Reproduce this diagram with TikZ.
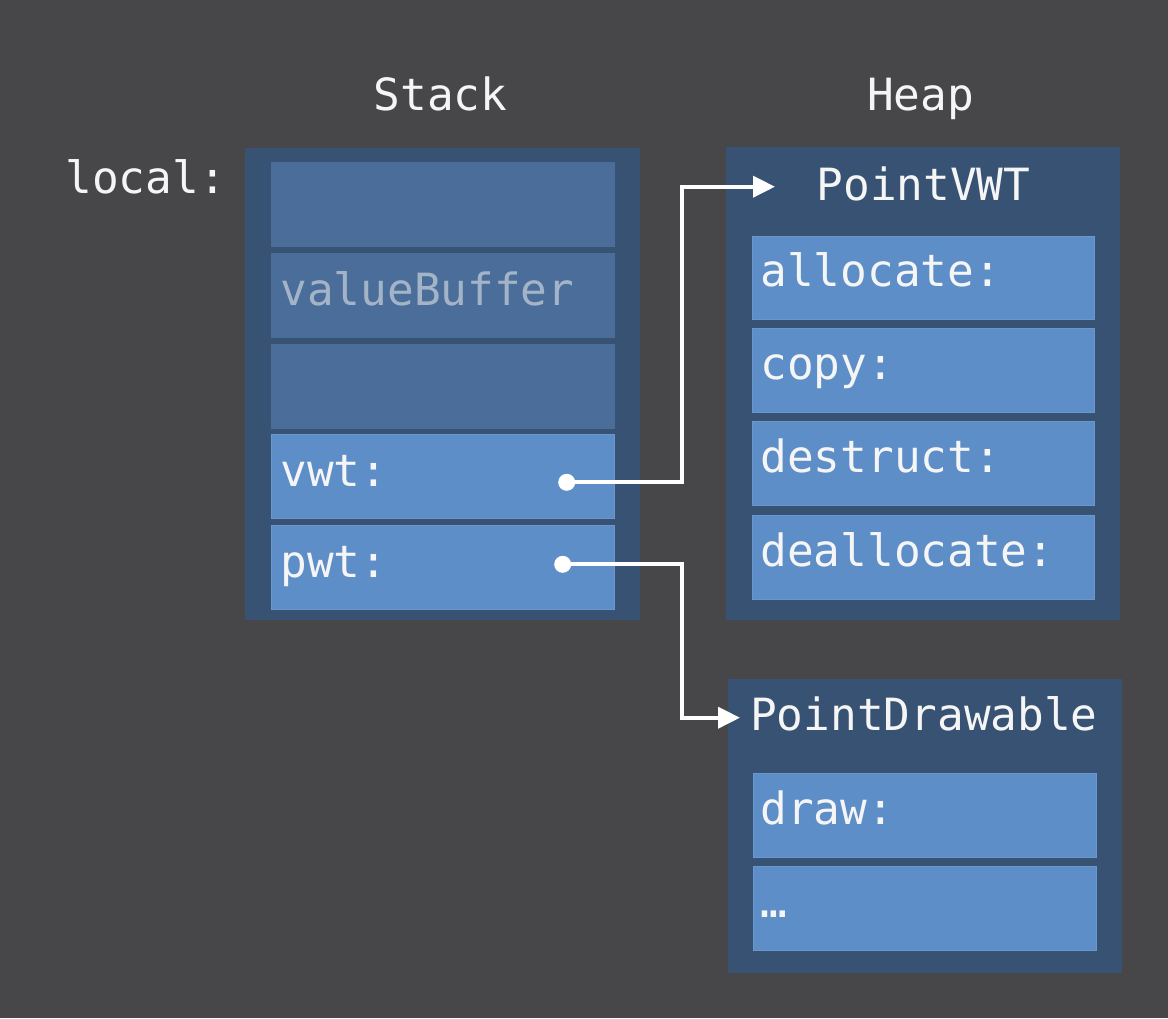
\documentclass[tikz,border=0pt]{standalone}
\usepackage{fontspec}
\setmonofont{DejaVu Sans Mono}
\usetikzlibrary{arrows.meta}
\definecolor{bgcol}{HTML}{474749}
\definecolor{framecol}{HTML}{375273}
\definecolor{slotdark}{HTML}{4A6E99}
\definecolor{slotlight}{HTML}{5D8EC7}
\definecolor{edgecol}{HTML}{6A98CE}
\definecolor{fadetext}{HTML}{A3B3C8}
\definecolor{txtcol}{HTML}{F5F5F5}
\begin{document}
\begin{tikzpicture}[x=0.5pt,y=-0.5pt,
frame/.style={fill=framecol,inner sep=0pt,anchor=north west},
slot/.style={fill=slotlight,draw=edgecol,line width=0.5pt,inner sep=0pt,anchor=north west,
  minimum width=171.3pt,minimum height=41.75pt},
dimslot/.style={slot,fill=slotdark,draw=slotdark},
txt/.style={text=txtcol,inner sep=0pt,anchor=base west,font=\ttfamily\fontsize{22.2}{26}\selectfont},
ptr/.style={draw=white,line width=2pt,-{Triangle[length=11pt,width=10.5pt]}},
dot/.style={circle,fill=white,inner sep=0pt,minimum size=8.5pt}
]
\fill[bgcol] (0,0) rectangle (1168,1018);
% headings
\node[txt,anchor=base] (stackhd) at (440.5,110) {Stack};
\node[txt,anchor=base] (heaphd) at (920.5,110) {Heap};
\node[txt] (localhd) at (65,193) {local:};
% stack
\node[frame,minimum width=197.5pt,minimum height=236pt] (stack) at (245,148) {};
\foreach \y/\n in {162.3/s1,253.3/s2,344.3/s3}
  \node[dimslot] (\n) at (271,\y) {};
\node[slot] (vwt) at (271,434) {};
\node[slot] (pwt) at (271,525) {};
\node[txt,text=fadetext] (buflbl) at (280,305) {valueBuffer};
\node[txt] (vwtlbl) at (280,486) {vwt:};
\node[txt] (pwtlbl) at (280,577) {pwt:};
% heap: value witness table
\node[frame,minimum width=197.25pt,minimum height=236.5pt] (vwtab) at (725.5,147) {};
\node[txt,anchor=base] (vwtitle) at (923.5,200) {PointVWT};
\foreach \y/\t [count=\i] in {235.7/allocate:,328.3/copy:,421/destruct:,515/deallocate:}{
  \node[slot] (vw\i) at (751.7,\y) {};
  \node[txt] (vwlbl\i) at (760,\y+51) {\t};
}
% heap: protocol witness table
\node[frame,minimum width=197.2pt,minimum height=147pt] (pwtab) at (727.3,678.3) {};
\node[txt,anchor=base] (pdtitle) at (924,730) {PointDrawable};
\foreach \y/\t [count=\i] in {773.3/draw:,866/…}{
  \node[slot] (pd\i) at (753.3,\y) {};
  \node[txt] (pdlbl\i) at (760,\y+51) {\t};
}
% pointers
\node[dot] (vwtdot) at (566.7,482.3) {};
\node[dot] (pwtdot) at (562.7,564.3) {};
\coordinate (vwtbend) at (681.7,186.7);
\coordinate (vwtin) at (775,186.7);
\coordinate (pwtbend) at (681.7,717.7);
\coordinate (pwtin) at (740,717.7);
\draw[ptr] (vwtdot.center) -| (vwtbend) -- (vwtin);
\draw[ptr] (pwtdot.center) -| (pwtbend) -- (pwtin);
\end{tikzpicture}
\end{document}
